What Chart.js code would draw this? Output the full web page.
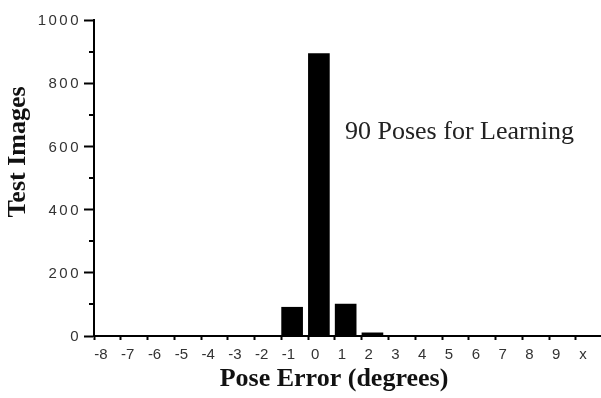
<!DOCTYPE html>
<html>
<head>
<meta charset="utf-8">
<script src="https://cdn.jsdelivr.net/npm/chart.js@4.4.1/dist/chart.umd.min.js"></script>
<style>
  html, body { margin: 0; padding: 0; background: #fff; }
  #wrap { width: 601px; height: 398px; }
</style>
</head>
<body>
<div id="wrap"><canvas id="chart" width="601" height="398"></canvas></div>
<script>
// Pose error histogram
const categories = ['-8', '-7', '-6', '-5', '-4', '-3', '-2', '-1', '0', '1', '2', '3', '4', '5', '6', '7', '8', '9', 'x'];
const testImages = [0, 0, 0, 0, 0, 0, 0, 91, 894, 101, 10, 0, 0, 0, 0, 0, 0, 0, 0];
const yMajorTicks = [0, 200, 400, 600, 800, 1000];
const yMinorTicks = [100, 300, 500, 700, 900];
const firstCategory = -8;

const xTitle = 'Pose Error (degrees)';
const yTitle = 'Test Images';
const note = '90 Poses for Learning';

// bars sit from the tick to the right, so shift them by a part of a step
const bars = testImages.map((v, i) => ({ x: firstCategory + i + 0.4, y: v }));

const textPlugin = {
    id: 'textPlugin',
    afterDraw(chart) {
        const ctx = chart.ctx;
        const area = chart.chartArea;
        const y = chart.scales.y;
        ctx.save();

        // minor ticks on the value axis
        ctx.strokeStyle = '#000';
        ctx.lineWidth = 2;
        yMinorTicks.forEach(v => {
            const py = Math.round(y.getPixelForValue(v));
            ctx.beginPath();
            ctx.moveTo(area.left - 5, py);
            ctx.lineTo(area.left, py);
            ctx.stroke();
        });

        // value labels, widely spaced like the original
        ctx.letterSpacing = '2.5px';
        ctx.font = '15px "Liberation Sans"';
        ctx.fillStyle = '#333';
        ctx.textAlign = 'right';
        ctx.textBaseline = 'middle';
        yMajorTicks.forEach(v => {
            ctx.fillText(String(v), area.left - 13, y.getPixelForValue(v) + 1);
        });
        ctx.letterSpacing = '0px';

        ctx.fillStyle = '#111';
        ctx.font = 'bold 26px "Liberation Serif"';
        ctx.textAlign = 'center';
        ctx.textBaseline = 'alphabetic';
        ctx.fillText(xTitle, 334, 386);

        ctx.save();
        ctx.translate(25, 152);
        ctx.rotate(-Math.PI / 2);
        ctx.fillText(yTitle, 0, 0);
        ctx.restore();

        ctx.font = '26px "Liberation Serif"';
        ctx.textAlign = 'left';
        ctx.fillStyle = '#222';
        ctx.fillText(note, 345, 139);
        ctx.restore();
    }
};

new Chart(document.getElementById('chart'), {
    type: 'bar',
    data: {
        datasets: [{
            data: bars,
            backgroundColor: '#000',
            borderWidth: 0,
            barThickness: 21
        }]
    },
    options: {
        responsive: false,
        animation: false,
        layout: { padding: { left: 0, top: 20, right: 1, bottom: 32 } },
        plugins: { legend: { display: false }, tooltip: { enabled: false } },
        scales: {
            x: {
                type: 'linear',
                offset: false,
                min: firstCategory,
                max: firstCategory + categories.length - 0.1,
                afterFit: s => { s.height = 30; },
                grid: { offset: false, drawOnChartArea: false, drawTicks: true, tickLength: 4, tickWidth: 2, tickColor: '#000' },
                border: { display: true, color: '#000', width: 2 },
                ticks: {
                    stepSize: 1,
                    includeBounds: false,
                    autoSkip: false,
                    maxRotation: 0,
                    labelOffset: 7,
                    padding: 6,
                    color: '#333',
                    font: { family: 'Liberation Sans', size: 15 },
                    callback: v => categories[v - firstCategory] ?? ''
                }
            },
            y: {
                min: 0,
                max: 1000,
                afterFit: s => { s.width = 94; },
                grid: { drawOnChartArea: false, drawTicks: true, tickLength: 10, tickWidth: 2, tickColor: '#000' },
                border: { display: true, color: '#000', width: 2 },
                afterBuildTicks: s => { s.ticks = yMajorTicks.map(v => ({ value: v })); },
                ticks: {
                    color: 'rgba(0,0,0,0)',
                    font: { family: 'Liberation Sans', size: 15 },
                    callback: v => String(v)
                }
            }
        }
    },
    plugins: [textPlugin]
});
</script>
</body>
</html>
